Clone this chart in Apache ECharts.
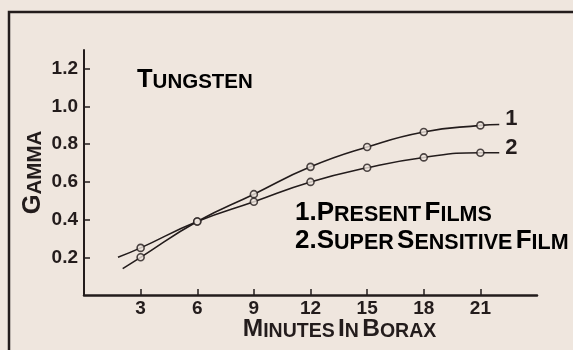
<!DOCTYPE html>
<html><head><meta charset="utf-8">
<script src="https://cdn.jsdelivr.net/npm/echarts@6/dist/echarts.min.js"></script>
<style>html,body{margin:0;padding:0;background:#efe6de;} #c{width:573px;height:350px;}</style>
</head><body><div id="c"></div>
<script>
// ---- data ----
const minutes = [3, 6, 9, 12, 15, 18, 21];
const presentFilms = [0.20, 0.39, 0.535, 0.68, 0.785, 0.865, 0.90];      // curve 1
const superSensitiveFilm = [0.25, 0.39, 0.495, 0.60, 0.675, 0.73, 0.755]; // curve 2
// the drawn curves run a little past the measured points
const presentFilmsStart = [2.05, 0.14];
const presentFilmsEnd = [22, 0.905];
const superSensitiveStart = [1.8, 0.20];
const superSensitiveEnd = [22, 0.755];
const xTickValues = [3, 6, 9, 12, 15, 18, 21];
const yTickValues = [0.2, 0.4, 0.6, 0.8, 1.0, 1.2];

const INK = '#231c1c';
const BG = '#efe6de';
const FONT = 'Liberation Sans';

function pts(xs, ys) { return xs.map((x, i) => [x, ys[i]]); }
const curve1 = [presentFilmsStart, ...pts(minutes, presentFilms), presentFilmsEnd];
const curve2 = [superSensitiveStart, ...pts(minutes, superSensitiveFilm), superSensitiveEnd];

function caps(big, small) {
  return {
    b: { fontSize: big, fontWeight: 'bold', fontFamily: FONT, color: INK, verticalAlign: 'bottom', lineHeight: big + 2 },
    s: { fontSize: small, fontWeight: 'bold', fontFamily: FONT, color: INK, verticalAlign: 'bottom', lineHeight: big + 2 }
  };
}
const richAxis = caps(25.5, 20.5);
const richXName = caps(24.5, 19.5);
const richLegend = caps(26, 21.5);

const chart = echarts.init(document.getElementById('c'), null, { renderer: 'canvas' });
chart.setOption({
  backgroundColor: BG,
  animation: false,
  grid: { left: 84, right: 36, top: 50, bottom: 55 },
  xAxis: {
    type: 'value', min: 0, max: 24, interval: 3,
    name: '{b|M}{s|INUTES} {b|I}{s|N} {b|B}{s|ORAX}',
    nameLocation: 'middle', nameGap: 20, nameMoveOverlap: false,
    nameTextStyle: { rich: richXName, padding: [0, 0, 0, 58] },
    splitLine: { show: false },
    axisLine: { lineStyle: { color: INK, width: 2.5 } },
    axisTick: { inside: true, length: 6, customValues: xTickValues, lineStyle: { color: INK, width: 1.5 } },
    axisLabel: { customValues: xTickValues, margin: 4, color: INK, fontFamily: FONT, fontWeight: 'bold', fontSize: 19 }
  },
  yAxis: {
    type: 'value', min: 0, max: 1.3, interval: 0.2,
    name: '{b|G}{s|AMMA}',
    nameLocation: 'middle', nameRotate: 90, nameGap: 38, nameMoveOverlap: false,
    nameTextStyle: { rich: richAxis },
    splitLine: { show: false },
    axisLine: { show: true, lineStyle: { color: INK, width: 2 } },
    axisTick: { show: true, inside: true, length: 6, customValues: yTickValues, lineStyle: { color: INK, width: 1.5 } },
    axisLabel: { customValues: yTickValues, margin: 6, color: INK, fontFamily: FONT, fontWeight: 'bold', fontSize: 19,
      formatter: v => v.toFixed(1) }
  },
  graphic: [
    { type: 'rect', z: -1, shape: { x: 9, y: 12, width: 620, height: 400 },
      style: { fill: null, stroke: INK, lineWidth: 2.5 } },
    { type: 'text', x: 137, y: 79, style: { text: '{b|T}{s|UNGSTEN}', rich: richAxis, textVerticalAlign: 'middle' } },
    { type: 'text', x: 295, y: 212, style: { text: '{b|1.P}{s|RESENT} {b|F}{s|ILMS}', rich: richLegend, textVerticalAlign: 'middle' } },
    { type: 'text', x: 295, y: 240, style: { text: '{b|2.S}{s|UPER} {b|S}{s|ENSITIVE} {b|F}{s|ILM}', rich: richLegend, textVerticalAlign: 'middle' } }
  ],
  series: [
    { type: 'line', data: curve1, smooth: 0.5, showSymbol: false,
      lineStyle: { color: INK, width: 1.6 },
      endLabel: { show: true, formatter: '1', distance: 6, offset: [0, -6], color: INK, fontFamily: FONT, fontWeight: 'bold', fontSize: 22 } },
    { type: 'line', data: curve2, smooth: 0.5, showSymbol: false,
      lineStyle: { color: INK, width: 1.6 },
      endLabel: { show: true, formatter: '2', distance: 6, offset: [0, -5], color: INK, fontFamily: FONT, fontWeight: 'bold', fontSize: 22 } },
    { type: 'scatter', data: pts(minutes, presentFilms), symbol: 'circle', symbolSize: 7, z: 5,
      itemStyle: { color: BG, borderColor: INK, borderWidth: 1.6 } },
    { type: 'scatter', data: pts(minutes, superSensitiveFilm), symbol: 'circle', symbolSize: 7, z: 5,
      itemStyle: { color: BG, borderColor: INK, borderWidth: 1.6 } }
  ]
});
</script></body></html>
